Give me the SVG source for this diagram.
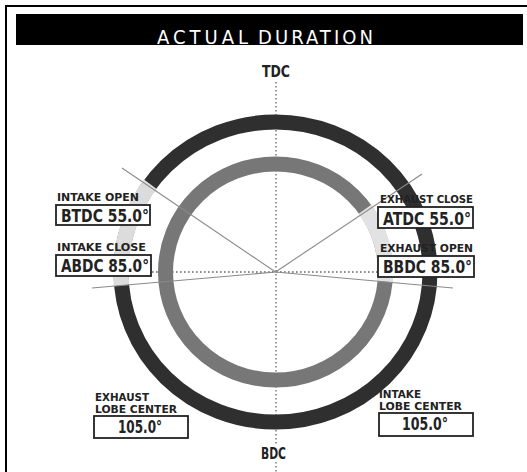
<svg xmlns="http://www.w3.org/2000/svg" width="527" height="472" viewBox="0 0 527 472">
<style>
.lbl{font-family:"DejaVu Sans Condensed","Liberation Sans",sans-serif;font-weight:bold;font-size:11px;fill:#222}
.val{font-family:"DejaVu Sans Condensed","Liberation Sans",sans-serif;font-weight:bold;font-size:17px;fill:#222}
.axis{font-family:"DejaVu Sans Condensed","Liberation Sans",sans-serif;font-weight:bold;font-size:16px;fill:#222}
.title{font-family:"DejaVu Sans Condensed","Liberation Sans",sans-serif;font-size:20px;fill:#fff}
.box{fill:#fff;stroke:#222;stroke-width:1.8}
.dot{stroke:#666;stroke-width:1.3;stroke-dasharray:1.6 2.4;fill:none}
.ray{stroke:#8a8a8a;stroke-width:1.1;fill:none}
</style>
<rect width="527" height="472" fill="#fff"/>
<g id="frame">
<line x1="5" y1="6" x2="527" y2="6" stroke="#000" stroke-width="2"/>
<line x1="6" y1="5" x2="6" y2="472" stroke="#000" stroke-width="2"/>
<rect x="16" y="14" width="507" height="31" fill="#000"/>
<text class="title" x="157" y="44" textLength="91" lengthAdjust="spacing">ACTUAL</text>
<text class="title" x="258" y="44" textLength="115" lengthAdjust="spacing">DURATION</text>
</g>
<g id="axes">
<line class="dot" x1="276" y1="82" x2="276" y2="444"/>
<line class="dot" x1="276" y1="462" x2="276" y2="472"/>
<line class="dot" x1="152" y1="272" x2="378" y2="272"/>
</g>
<g id="rings">
<ellipse cx="275.5" cy="272" rx="154.5" ry="150" fill="none" stroke="#2f2f2f" stroke-width="15"/>
<path d="M150.2,184.2 A154.5,150 0 0 0 121.6,285.5" fill="none" stroke="#dcdcdc" stroke-width="15.5"/>
<ellipse cx="275.5" cy="272" rx="110" ry="108" fill="none" stroke="#777" stroke-width="15"/>
<path d="M365,209.3 A110,108 0 0 1 385.1,281.6" fill="none" stroke="#e2e2e2" stroke-width="15.5"/>
</g>
<g id="connectors">
<line class="ray" x1="275.5" y1="272" x2="122" y2="168"/>
<line class="ray" x1="275.5" y1="272" x2="422" y2="174"/>
<line class="ray" x1="275.5" y1="272" x2="92" y2="288"/>
<line class="ray" x1="275.5" y1="272" x2="453" y2="288"/>
</g>
<g id="tdc"><text class="axis" x="276" y="77" text-anchor="middle" textLength="28" lengthAdjust="spacingAndGlyphs">TDC</text></g>
<g id="bdc"><text class="axis" x="273.5" y="459" text-anchor="middle" textLength="25" lengthAdjust="spacingAndGlyphs">BDC</text></g>
<g id="intake-open">
<text class="lbl" x="57" y="201" textLength="82" lengthAdjust="spacingAndGlyphs">INTAKE OPEN</text>
<rect class="box" x="56" y="205" width="94" height="20"/>
<text class="val" x="61" y="222" textLength="88" lengthAdjust="spacingAndGlyphs">BTDC 55.0°</text>
</g>
<g id="intake-close">
<text class="lbl" x="57" y="251" textLength="89" lengthAdjust="spacingAndGlyphs">INTAKE CLOSE</text>
<rect class="box" x="56" y="255" width="95" height="21"/>
<text class="val" x="61" y="272" textLength="88" lengthAdjust="spacingAndGlyphs">ABDC 85.0°</text>
</g>
<g id="exhaust-close">
<text class="lbl" x="380" y="203" textLength="93" lengthAdjust="spacingAndGlyphs">EXHAUST CLOSE</text>
<rect class="box" x="378" y="207" width="95" height="21"/>
<text class="val" x="383" y="225" textLength="88" lengthAdjust="spacingAndGlyphs">ATDC 55.0°</text>
</g>
<g id="exhaust-open">
<text class="lbl" x="380" y="252" textLength="93" lengthAdjust="spacingAndGlyphs">EXHAUST OPEN</text>
<rect class="box" x="378" y="256" width="96" height="21"/>
<text class="val" x="383" y="273" textLength="89" lengthAdjust="spacingAndGlyphs">BBDC 85.0°</text>
</g>
<g id="exhaust-lobe">
<text class="lbl" x="95" y="401" textLength="54" lengthAdjust="spacingAndGlyphs">EXHAUST</text>
<text class="lbl" x="95" y="413" textLength="82" lengthAdjust="spacingAndGlyphs">LOBE CENTER</text>
<rect class="box" x="94" y="416" width="94" height="22"/>
<text class="val" x="118" y="433" textLength="44" lengthAdjust="spacingAndGlyphs">105.0°</text>
</g>
<g id="intake-lobe">
<text class="lbl" x="379" y="398" textLength="42" lengthAdjust="spacingAndGlyphs">INTAKE</text>
<text class="lbl" x="379" y="410" textLength="83" lengthAdjust="spacingAndGlyphs">LOBE CENTER</text>
<rect class="box" x="379" y="413" width="94" height="23"/>
<text class="val" x="402" y="430" textLength="46" lengthAdjust="spacingAndGlyphs">105.0°</text>
</g>
</svg>
